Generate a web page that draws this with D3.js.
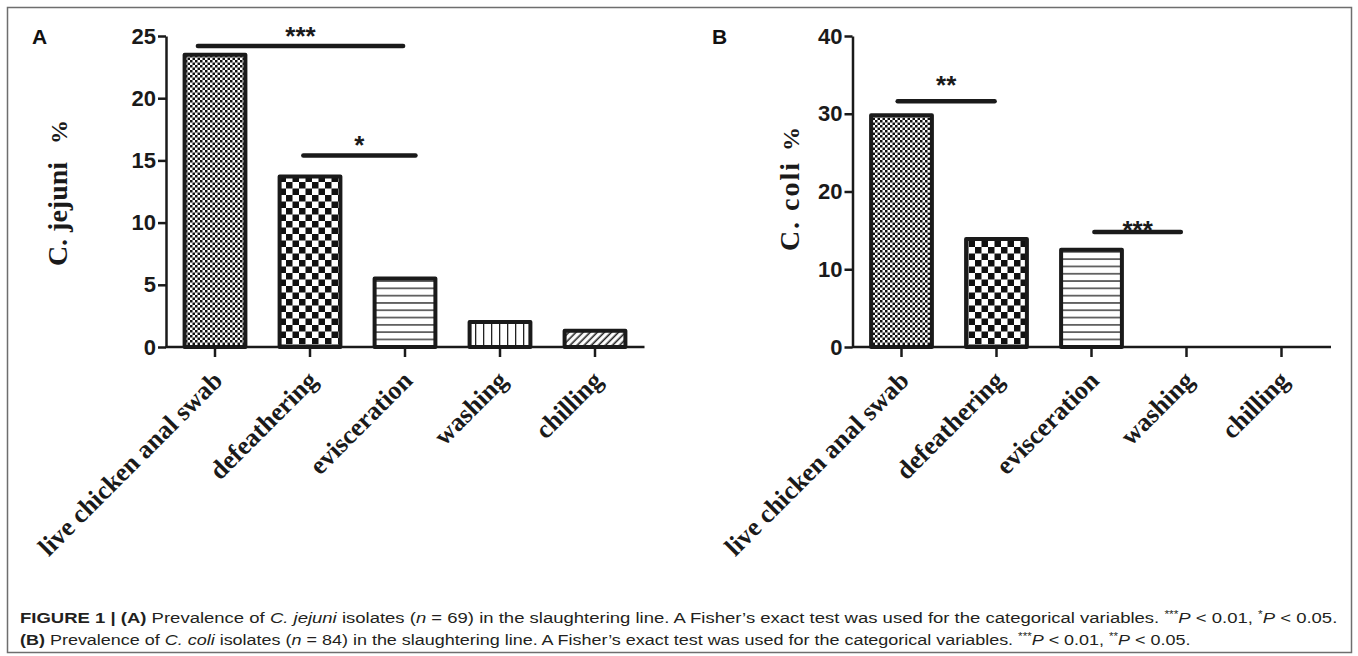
<!DOCTYPE html>
<html>
<head>
<meta charset="utf-8">
<script src="https://cdn.jsdelivr.net/npm/d3@7"></script>
<style>
  body { margin: 0; background: #fff; }
  svg { display: block; }
</style>
</head>
<body>
<svg id="chart"></svg>
<script>
// data
const stages = ["live chicken anal swab", "defeathering", "evisceration", "washing", "chilling"];
const jejuniValues = [23.5, 13.7, 5.5, 2.0, 1.3];
const coliValues = [29.8, 13.9, 12.5, 0, 0];
const jejuniTicks = [0, 5, 10, 15, 20, 25];
const coliTicks = [0, 10, 20, 30, 40];
// significance bars: start / end in category index units, levels in % units
const jejuniSig = [
  { from: -0.18, to: 1.98, level: 24.2, labelLevel: 24.3, label: "***" },
  { from: 0.93, to: 2.11, level: 15.4, labelLevel: 15.5, label: "*" }
];
const coliSig = [
  { from: -0.04, to: 0.98, level: 31.6, labelLevel: 32.5, label: "**" },
  { from: 2.03, to: 2.94, level: 14.8, labelLevel: 13.9, label: "***" }
];

document.addEventListener("DOMContentLoaded", function() {
  const width = 1358;
  const height = 656;

  let svg = d3.select("#chart")
              .attr("width", width)
              .attr("height", height);

  //patterns for the bars
  let defs = svg.append("defs");

  let p0 = defs.append("pattern").attr("id", "pat0")
     .attr("patternUnits", "userSpaceOnUse").attr("width", 5).attr("height", 5);
  p0.append("rect").attr("width", 5).attr("height", 5).attr("fill", "#fff");
  p0.append("rect").attr("width", 2.5).attr("height", 2.5).attr("fill", "#111");
  p0.append("rect").attr("x", 2.5).attr("y", 2.5).attr("width", 2.5).attr("height", 2.5).attr("fill", "#111");

  let p1 = defs.append("pattern").attr("id", "pat1")
     .attr("patternUnits", "userSpaceOnUse").attr("width", 13).attr("height", 13);
  p1.append("rect").attr("width", 13).attr("height", 13).attr("fill", "#fff");
  p1.append("rect").attr("width", 6.5).attr("height", 6.5).attr("fill", "#111");
  p1.append("rect").attr("x", 6.5).attr("y", 6.5).attr("width", 6.5).attr("height", 6.5).attr("fill", "#111");

  let p2 = defs.append("pattern").attr("id", "pat2")
     .attr("patternUnits", "userSpaceOnUse").attr("width", 10).attr("height", 7.3);
  p2.append("rect").attr("width", 10).attr("height", 7.3).attr("fill", "#fff");
  p2.append("rect").attr("y", 3).attr("width", 10).attr("height", 1.3).attr("fill", "#222");

  let p3 = defs.append("pattern").attr("id", "pat3")
     .attr("patternUnits", "userSpaceOnUse").attr("width", 8).attr("height", 10);
  p3.append("rect").attr("width", 8).attr("height", 10).attr("fill", "#fff");
  p3.append("rect").attr("x", 3).attr("width", 1.3).attr("height", 10).attr("fill", "#222");

  let p4 = defs.append("pattern").attr("id", "pat4")
     .attr("patternUnits", "userSpaceOnUse").attr("width", 5).attr("height", 10)
     .attr("patternTransform", "rotate(45)");
  p4.append("rect").attr("width", 5).attr("height", 10).attr("fill", "#fff");
  p4.append("rect").attr("x", 1.5).attr("width", 1.6).attr("height", 10).attr("fill", "#222");

  //figure frame
  svg.append("rect")
     .attr("x", 7.5).attr("y", 7.5)
     .attr("width", 1344).attr("height", 645)
     .attr("fill", "none")
     .attr("stroke", "#6e6e6e")
     .attr("stroke-width", 1.5);

  function drawPanel(opt) {
    let g = svg.append("g");

    //set up scales
    let xScale = d3.scaleBand()
                   .domain(stages)
                   .range([opt.x0, opt.x0 + 475])
                   .paddingInner(0.36)
                   .paddingOuter(0.18);

    let yScale = d3.scaleLinear()
                   .domain([0, opt.max])
                   .range([347, 36]);

    // category index -> pixel, for the significance bars
    let idx = d3.scaleLinear()
                .domain([0, 1])
                .range([xScale(stages[0]) + xScale.bandwidth() / 2, xScale(stages[1]) + xScale.bandwidth() / 2]);

    //draw bars
    g.selectAll(".bar")
     .data(opt.values.map((v, i) => ({ stage: stages[i], v: v, i: i })).filter(d => d.v > 0))
     .enter()
     .append("rect")
       .attr("class", "bar")
       .attr("x", d => xScale(d.stage))
       .attr("y", d => yScale(d.v))
       .attr("width", xScale.bandwidth())
       .attr("height", d => yScale(0) - yScale(d.v))
       .attr("fill", d => "url(#pat" + d.i + ")")
       .attr("stroke", "#1a1a1a")
       .attr("stroke-width", 4)
       .attr("stroke-linejoin", "round");

    //axes
    let yAxis = d3.axisLeft(yScale)
                  .tickValues(opt.ticks)
                  .tickSize(8)
                  .tickSizeOuter(0)
                  .tickPadding(2);

    let gy = g.append("g")
              .attr("transform", `translate(${opt.x0 - 1.5},0)`)
              .call(yAxis);
    gy.selectAll("path, line").attr("stroke", "#1a1a1a").attr("stroke-width", 2.5);
    gy.selectAll("text")
      .style("font-family", "'Liberation Sans', Arial, sans-serif")
      .style("font-weight", "bold")
      .style("font-size", "22px")
      .attr("fill", "#1a1a1a");

    let xAxis = d3.axisBottom(xScale)
                  .tickSize(10)
                  .tickSizeOuter(0);

    let gx = g.append("g")
              .attr("transform", `translate(0,${yScale(0)})`)
              .call(xAxis);
    gx.select(".domain").attr("d", `M${opt.x0 - 2},0H${opt.x0 + 477}`);
    gx.selectAll("path, line").attr("stroke", "#1a1a1a").attr("stroke-width", 2.5);
    gx.selectAll("text")
      .attr("x", 0).attr("y", 0).attr("dy", null)
      .attr("transform", "translate(9,35) rotate(-45)")
      .style("text-anchor", "end")
      .style("font-family", "'Liberation Serif', 'Times New Roman', serif")
      .style("font-weight", "bold")
      .style("font-size", "26px")
      .attr("fill", "#1a1a1a");

    //significance bars
    opt.sig.forEach(s => {
      g.append("line")
       .attr("x1", idx(s.from)).attr("x2", idx(s.to))
       .attr("y1", yScale(s.level)).attr("y2", yScale(s.level))
       .attr("stroke", "#1a1a1a")
       .attr("stroke-width", 4.5)
       .attr("stroke-linecap", "round");
      g.append("text")
       .attr("x", (idx(s.from) + idx(s.to)) / 2)
       .attr("y", yScale(s.labelLevel))
       .attr("text-anchor", "middle")
       .style("font-family", "'Liberation Sans', Arial, sans-serif")
       .style("font-weight", "bold")
       .style("font-size", "26px")
       .attr("fill", "#1a1a1a")
       .text(s.label);
    });

    //y title
    let t = g.append("text")
             .attr("transform", `translate(${opt.titleX},${opt.titleY}) rotate(-90)`)
             .attr("text-anchor", "middle")
             .style("font-family", "'Liberation Serif', 'Times New Roman', serif")
             .style("font-weight", "bold")
             .style("font-size", "28px")
             .attr("fill", "#1a1a1a");
    t.append("tspan").style("letter-spacing", opt.titleSpacing + "px").text(opt.title);
    t.append("tspan").attr("dx", opt.titleGap).style("font-size", "24px").text("%");

    //panel letter
    svg.append("text")
       .attr("x", opt.letterX).attr("y", 44)
       .style("font-family", "'Liberation Sans', Arial, sans-serif")
       .style("font-weight", "bold")
       .style("font-size", "21px")
       .attr("fill", "#111")
       .text(opt.letter);
  }

  drawPanel({ x0: 167.5, max: 25, values: jejuniValues, ticks: jejuniTicks, sig: jejuniSig,
              title: "C. jejuni", titleX: 67, titleY: 193, titleGap: 18, titleSpacing: 0, letter: "A", letterX: 32 });
  drawPanel({ x0: 854, max: 40, values: coliValues, ticks: coliTicks, sig: coliSig,
              title: "C. coli", titleX: 799, titleY: 189, titleGap: 10, titleSpacing: 2, letter: "B", letterX: 712 });

  //caption
  let capFont = "'Liberation Sans', Arial, sans-serif";
  function caption(parts) {
    let t = svg.append("text")
               .attr("x", 0).attr("y", 0)
               .style("font-family", capFont)
               .style("font-size", "15.5px")
               .attr("fill", "#231f20");
    parts.forEach(p => {
      let s = t.append("tspan").text(p[0]);
      if (p[1] === "b") s.style("font-weight", "bold");
      if (p[1] === "i") s.style("font-style", "italic");
      if (p[1] === "sup") s.style("font-size", "10px").attr("dy", -5);
      if (p[1] === "i-after-sup") s.style("font-style", "italic").attr("dy", 5);
    });
    return t;
  }

  let line1 = caption([
    ["FIGURE 1 | (A)", "b"], [" Prevalence of ", ""], ["C. jejuni", "i"], [" isolates (", ""], ["n", "i"],
    [" = 69) in the slaughtering line. A Fisher\u2019s exact test was used for the categorical variables. ", ""],
    ["***", "sup"], ["P", "i-after-sup"], [" < 0.01, ", ""], ["*", "sup"], ["P", "i-after-sup"], [" < 0.05.", ""]
  ]);
  let line2 = caption([
    ["(B)", "b"], [" Prevalence of ", ""], ["C. coli", "i"], [" isolates (", ""], ["n", "i"],
    [" = 84) in the slaughtering line. A Fisher\u2019s exact test was used for the categorical variables. ", ""],
    ["***", "sup"], ["P", "i-after-sup"], [" < 0.01, ", ""], ["**", "sup"], ["P", "i-after-sup"], [" < 0.05.", ""]
  ]);

  // squeeze the caption to the narrow face of the original
  let k1 = (1338 - 20) / line1.node().getComputedTextLength();
  let k2 = (1192 - 20) / line2.node().getComputedTextLength();
  line1.attr("transform", `translate(20,623) scale(${k1},1)`);
  line2.attr("transform", `translate(20,645) scale(${k2},1)`);
});
</script>
</body>
</html>
